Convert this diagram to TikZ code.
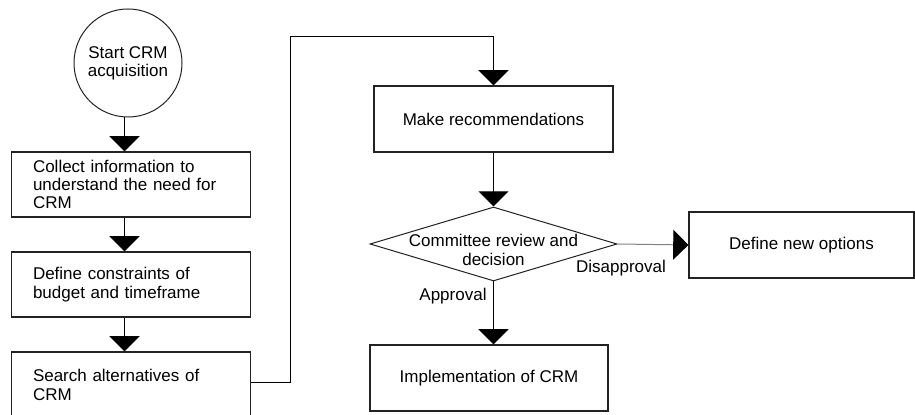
\documentclass[tikz,border=0pt]{standalone}
\usepackage{fontspec}
\setmainfont{Liberation Sans}
\usetikzlibrary{arrows.meta}
\usetikzlibrary{shapes.geometric}
\definecolor{LineGrey}{HTML}{222222}

\begin{document}
\begin{tikzpicture}[x=0.5pt,y=-0.5pt,
    every node/.style={font=\fontsize{8.5}{9.15}\selectfont},
    startnode/.style={circle,draw=LineGrey,line width=0.5pt,minimum size=54pt,inner sep=0pt,align=center},
    leftbox/.style={rectangle,draw=LineGrey,line width=0.6pt,minimum width=119.25pt,minimum height=32.5pt,
      inner xsep=10.5pt,text width=98pt,align=left},
    rightbox/.style={rectangle,draw=LineGrey,line width=0.6pt,minimum height=33pt,inner sep=0pt,align=center},
    decision/.style={diamond,draw=LineGrey,line width=0.5pt,minimum width=123.5pt,minimum height=37pt,inner sep=0pt},
    flow/.style={draw=black,line width=0.5pt,-{Triangle[width=15pt,length=7.6pt,color=black]}}]
  \clip (0,0) rectangle (915,415);

  \node[startnode] (start) at (128,63) {Start CRM\\acquisition};
  \node[leftbox] (collect) at (131,184.5) {Collect information to\\understand the need for\\CRM};
  \node[leftbox] (constraints) at (131,284.5) {Define constraints of\\budget and timeframe};
  \node[leftbox,minimum height=33pt] (search) at (131,385) {Search alternatives of\\CRM\\[9pt]};

  \node[rightbox,minimum width=119.5pt] (recommend) at (493.5,119) {Make recommendations};
  \node[decision,label={[align=center,yshift=-3pt]center:Committee review and\\decision}] (review) at (493.5,244) {};
  \node[rightbox,minimum width=119pt] (implement) at (489,378) {Implementation of CRM};
  \node[rightbox,minimum width=112.5pt] (options) at (801.5,245) {Define new options};

  \node (approval) at (453,296) {Approval};
  \node (disapproval) at (621,268) {Disapproval};

  \coordinate (loop) at (290,37);

  \draw[flow] (start.south -| 124.5,0) -- (collect.north -| 124.5,0);
  \draw[flow] (collect.south -| 124.5,0) -- (constraints.north -| 124.5,0);
  \draw[flow] (constraints.south -| 124.5,0) -- (search.north -| 124.5,0);
  \draw[line width=0.5pt] (search.east |- 0,383) -| (loop);
  \draw[flow] (loop) -| (recommend.north);
  \draw[flow] (recommend.south) -- (review.north);
  \draw[flow] (review.south) -- (review.south |- implement.north);
  \draw[flow,draw=gray] (review.east) -- (options.west);
\end{tikzpicture}
\end{document}
